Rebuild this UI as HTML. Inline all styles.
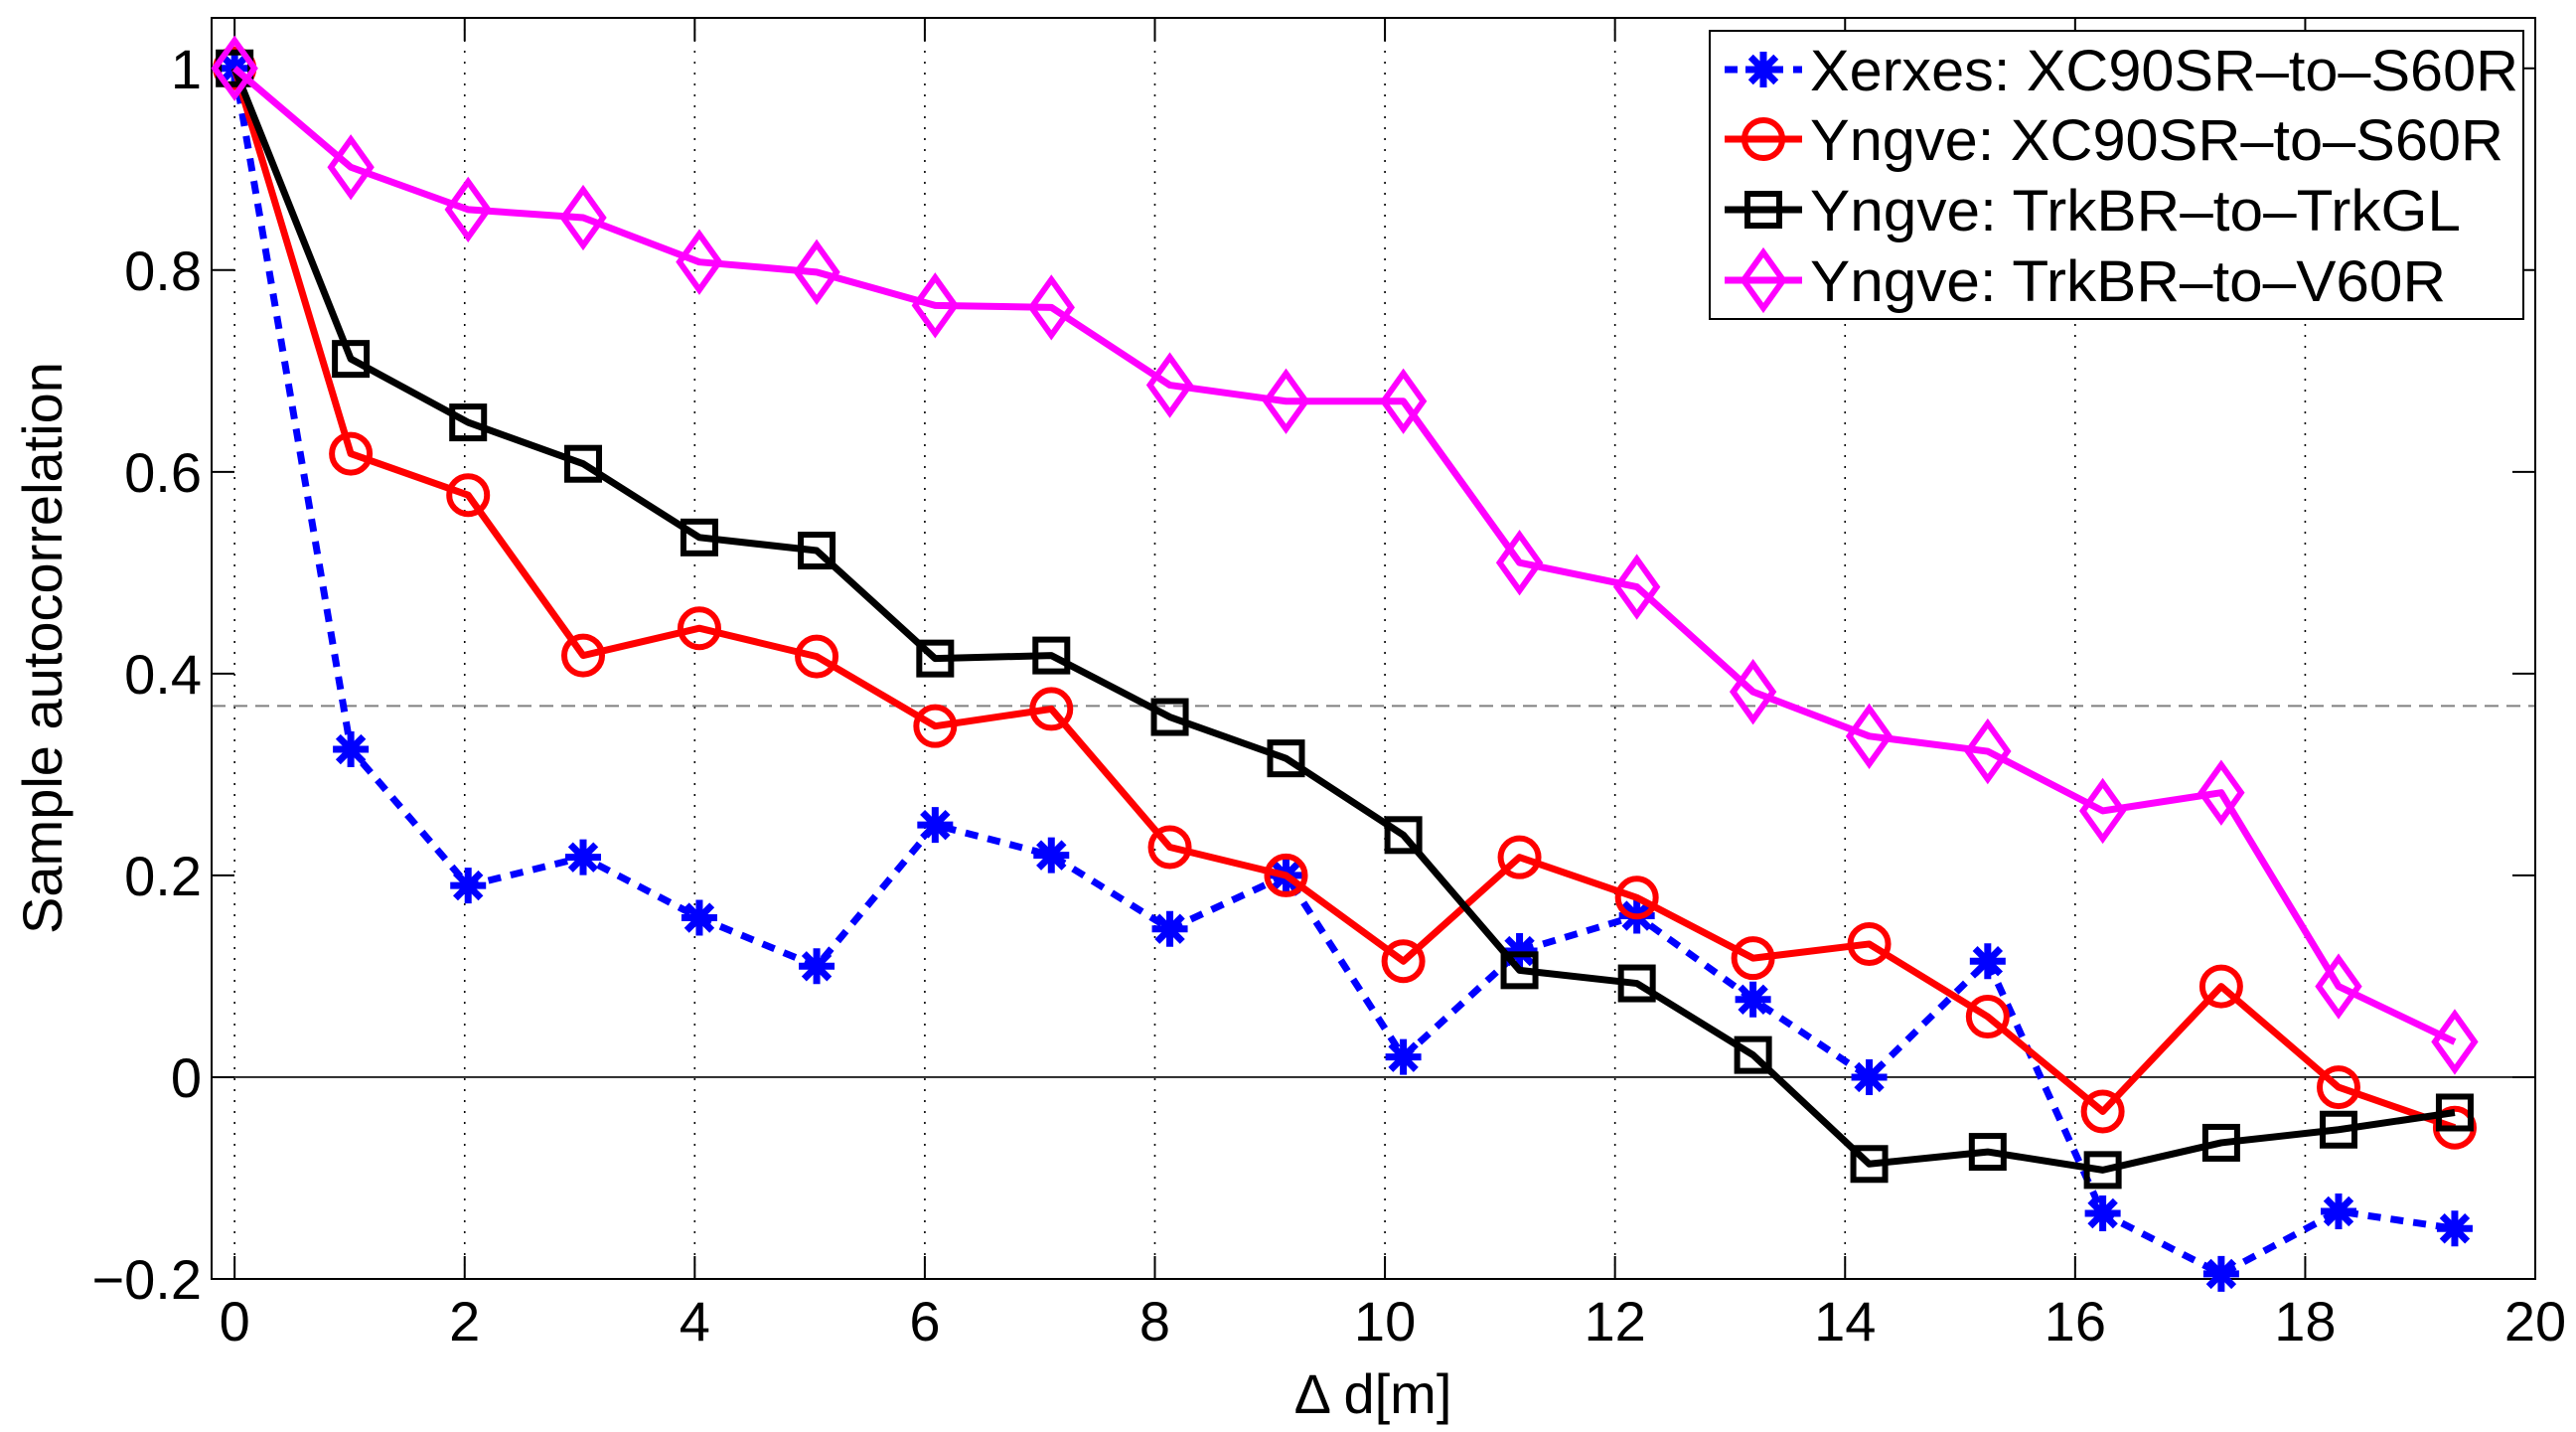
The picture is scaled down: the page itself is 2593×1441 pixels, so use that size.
<!DOCTYPE html>
<html><head><meta charset="utf-8"><style>
html,body{margin:0;padding:0;background:#fff;}
svg{display:block;font-family:"Liberation Sans",sans-serif;}
</style></head><body>
<svg id="chart" width="2593" height="1441" viewBox="0 0 2593 1441" xmlns="http://www.w3.org/2000/svg"></svg>
<script>
const xValues = [0, 1.01, 2.03, 3.03, 4.04, 5.06, 6.09, 7.1, 8.13, 9.14, 10.16, 11.17, 12.19, 13.2, 14.21, 15.24, 16.24, 17.27, 18.29, 19.3];
const xerxesXC90 = [1, 0.325, 0.19, 0.218, 0.158, 0.11, 0.25, 0.22, 0.147, 0.2, 0.02, 0.125, 0.16, 0.077, 0.0, 0.115, -0.135, -0.195, -0.133, -0.15];
const yngveXC90 = [1, 0.618, 0.577, 0.418, 0.445, 0.417, 0.348, 0.365, 0.228, 0.2, 0.115, 0.218, 0.178, 0.118, 0.132, 0.06, -0.034, 0.09, -0.01, -0.05];
const yngveTrkGL = [1, 0.712, 0.649, 0.608, 0.535, 0.522, 0.415, 0.418, 0.357, 0.316, 0.24, 0.106, 0.093, 0.022, -0.086, -0.074, -0.092, -0.065, -0.052, -0.035];
const yngveV60R = [1, 0.902, 0.86, 0.852, 0.808, 0.798, 0.765, 0.763, 0.686, 0.67, 0.67, 0.51, 0.486, 0.382, 0.338, 0.323, 0.264, 0.282, 0.09, 0.035];
const xTicks = [0, 2, 4, 6, 8, 10, 12, 14, 16, 18, 20];
const yTicks = [-0.2, 0, 0.2, 0.4, 0.6, 0.8, 1];
const yTickLabels = ["\u22120.2", "0", "0.2", "0.4", "0.6", "0.8", "1"];
const thresholdValue = 0.368;
const legendLabels = ["Xerxes: XC90SR\u2013to\u2013S60R", "Yngve: XC90SR\u2013to\u2013S60R", "Yngve: TrkBR\u2013to\u2013TrkGL", "Yngve: TrkBR\u2013to\u2013V60R"];

const L = 213, R = 2552, T = 18, B = 1287;
const XMIN = -0.2, XMAX = 20, YMIN = -0.2, YMAX = 1.05;
const sx = v => L + (v - XMIN) / (XMAX - XMIN) * (R - L);
const sy = v => B - (v - YMIN) / (YMAX - YMIN) * (B - T);
const svg = document.getElementById('chart');
const NS = 'http://www.w3.org/2000/svg';
function mk(tag, attrs, parent) {
  const e = document.createElementNS(NS, tag);
  for (const k in attrs) e.setAttribute(k, attrs[k]);
  (parent || svg).appendChild(e);
  return e;
}

const grid = mk('g', {});


xTicks.forEach(t => {
  if (t === XMAX) return;
  mk('line', {x1: sx(t), x2: sx(t), y1: T, y2: B, stroke: '#000', 'stroke-width': 1.6, 'stroke-dasharray': '2 9'}, grid);
});
const zl = mk('line', {x1: L, x2: R, y1: sy(0), y2: sy(0), stroke: '#000', 'stroke-width': 1.6});


const th = mk('line', {x1: L, x2: R, y1: sy(thresholdValue), y2: sy(thresholdValue), stroke: '#808080', 'stroke-width': 2, 'stroke-dasharray': '14 8'});



const axes = mk('g', {});


mk('rect', {x: L, y: T, width: R - L, height: B - T, fill: 'none', stroke: '#000', 'stroke-width': 2}, axes);
xTicks.forEach(t => {
  mk('line', {x1: sx(t), x2: sx(t), y1: B, y2: B - 23, stroke: '#000', 'stroke-width': 2}, axes);
  mk('line', {x1: sx(t), x2: sx(t), y1: T, y2: T + 23, stroke: '#000', 'stroke-width': 2}, axes);
  const tx = mk('text', {x: sx(t), y: B + 62, 'font-size': 56, 'text-anchor': 'middle'}, axes);
  tx.textContent = String(t);
  
  
});
yTicks.forEach((t, i) => {
  mk('line', {x1: L, x2: L + 23, y1: sy(t), y2: sy(t), stroke: '#000', 'stroke-width': 2}, axes);
  mk('line', {x1: R, x2: R - 23, y1: sy(t), y2: sy(t), stroke: '#000', 'stroke-width': 2}, axes);
  const ty = mk('text', {x: L - 10, y: sy(t) + 20, 'font-size': 56, 'text-anchor': 'end'}, axes);
  ty.textContent = yTickLabels[i];
  
  
});
const xt = mk('text', {x: 1382, y: 1422, 'font-size': 56, 'text-anchor': 'middle'});
xt.textContent = '\u0394 d[m]';


const yt = mk('text', {x: 0, y: 0, 'font-size': 56, 'text-anchor': 'middle', transform: 'translate(62,652) rotate(-90)'});
yt.textContent = 'Sample autocorrelation';



function marker(kind, x, y, color, parent, s) {
  s = s || 1;
  if (kind === 'star') {
    const g = mk('g', {stroke: color, 'stroke-width': 7, fill: 'none'}, parent);
    const r = 18 * s;
    for (let a = 0; a < 4; a++) {
      const ang = a * Math.PI / 4;
      mk('line', {x1: x - r * Math.cos(ang), y1: y - r * Math.sin(ang), x2: x + r * Math.cos(ang), y2: y + r * Math.sin(ang)}, g);
    }
  } else if (kind === 'circle') {
    mk('circle', {cx: x, cy: y, r: 19 * s, fill: 'none', stroke: color, 'stroke-width': 6}, parent);
  } else if (kind === 'square') {
    const h = 16 * s;
    mk('rect', {x: x - h, y: y - h, width: 2 * h, height: 2 * h, fill: 'none', stroke: color, 'stroke-width': 6}, parent);
  } else if (kind === 'diamond') {
    const w = 20 * s, h = 28 * s;
    mk('polygon', {points: `${x},${y - h} ${x + w},${y} ${x},${y + h} ${x - w},${y}`, fill: 'none', stroke: color, 'stroke-width': 6}, parent);
  }
}

const seriesList = [
  {name: 'series-xerxes-xc90sr-to-s60r', data: xerxesXC90, color: '#0000ff', kind: 'star', dash: '13 10'},
  {name: 'series-yngve-xc90sr-to-s60r', data: yngveXC90, color: '#ff0000', kind: 'circle', dash: null},
  {name: 'series-yngve-trkbr-to-trkgl', data: yngveTrkGL, color: '#000000', kind: 'square', dash: null},
  {name: 'series-yngve-trkbr-to-v60r', data: yngveV60R, color: '#ff00ff', kind: 'diamond', dash: null}
];
seriesList.forEach(s => {
  const g = mk('g', {});
  
  
  const pts = s.data.map((v, i) => sx(xValues[i]) + ',' + sy(v)).join(' ');
  const attrs = {points: pts, fill: 'none', stroke: s.color, 'stroke-width': 7, 'stroke-linejoin': 'round'};
  if (s.dash) attrs['stroke-dasharray'] = s.dash;
  mk('polyline', attrs, g);
  s.data.forEach((v, i) => marker(s.kind, sx(xValues[i]), sy(v), s.color, g));
});

const lg = mk('g', {});


mk('rect', {x: 1721, y: 31, width: 819, height: 290, fill: '#fff', stroke: '#000', 'stroke-width': 2}, lg);
const rowY = [70, 140, 211, 282];
const textLen = [713, 698, 655, 640];
seriesList.forEach((s, i) => {
  const e = mk('g', {}, lg);
  
  
  const a = {x1: 1736, x2: 1814, y1: rowY[i], y2: rowY[i], stroke: s.color, 'stroke-width': 7};
  if (s.dash) a['stroke-dasharray'] = '13 10';
  mk('line', a, e);
  marker(s.kind, 1775, rowY[i], s.color, e);
  const t = mk('text', {x: 1822, y: rowY[i] + 21, 'font-size': 58, textLength: textLen[i], lengthAdjust: 'spacingAndGlyphs'}, e);
  t.textContent = legendLabels[i];
});
</script>
</body></html>
